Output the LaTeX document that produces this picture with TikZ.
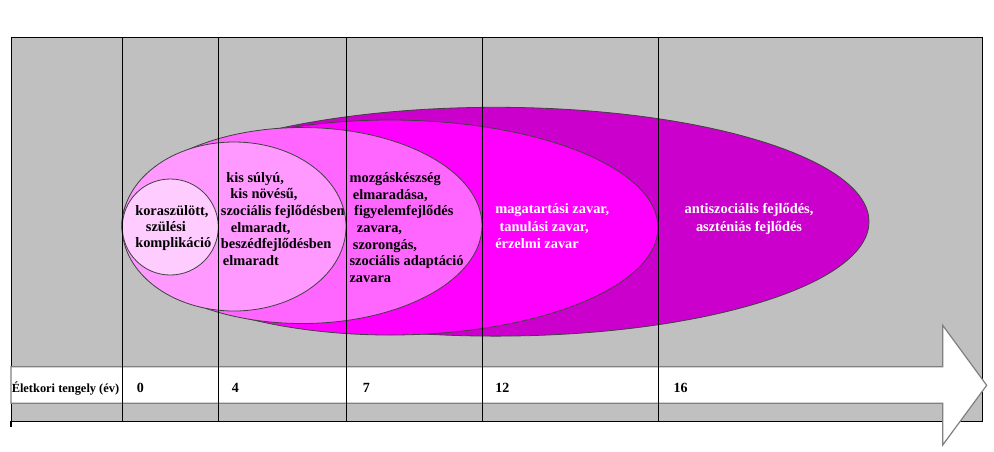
\documentclass[tikz,border=0pt]{standalone}
\usepackage{fontspec}
\setmainfont{Liberation Serif}
\definecolor{panelgray}{HTML}{C0C0C0}
\definecolor{pinkA}{HTML}{FFCCFF}
\definecolor{pinkB}{HTML}{FF99FF}
\definecolor{pinkC}{HTML}{FF66FF}
\definecolor{pinkD}{HTML}{FF00FF}
\definecolor{pinkE}{HTML}{CC00CC}
\definecolor{arrowgray}{HTML}{808080}
\begin{document}
\begin{tikzpicture}[x=0.75pt,y=-0.75pt,
  ell/.style={draw=black!75, line width=0.6pt},
  vline/.style={draw=black, line width=0.65pt},
  lbl/.style={font=\fontsize{10.8}{12.5}\selectfont\bfseries, align=left, inner sep=0pt, anchor=base west},
  num/.style={font=\fontsize{10.5}{12.5}\selectfont\bfseries, inner sep=0pt, anchor=base west}]
\useasboundingbox (0,0) rectangle (994,451);
% panel
\draw[fill=panelgray, draw=black, line width=0.7pt] (11,37) rectangle (982,421);
\draw[black, line width=1.1pt] (11,421) -- (11,427);
% ellipses
\filldraw[ell, fill=pinkE] (495.5,221.7) ellipse [x radius=373.5, y radius=114.4];
\filldraw[ell, fill=pinkD] (390,227.5) ellipse [x radius=268, y radius=107.5];
\filldraw[ell, fill=pinkC] (302,225.5) ellipse [x radius=180, y radius=98];
\filldraw[ell, fill=pinkB] (234,226.5) ellipse [x radius=112, y radius=84.5];
\filldraw[ell, fill=pinkA] (170.3,227) ellipse [x radius=48, y radius=48];
% axis arrow
\draw[draw=arrowgray, fill=white, line width=0.9pt, line join=miter]
  (11,366.8) -- (942.7,366.8) -- (942.7,325.3) -- (986.7,385.3) -- (942.7,445)
  -- (942.7,403.3) -- (11,403.3) -- cycle;
% vertical grid lines
\foreach \xx in {122,218,346,482,658} \draw[vline] (\xx,37) -- (\xx,421);
% labels (anchored at the baseline of the last line)
\node[lbl, font=\fontsize{10.8}{12}\selectfont\bfseries] (ta) at (135,247.5) {koraszülött,\\\hspace*{8pt}szülési\\komplikáció};
\node[lbl] (tb) at (220.7,265.5)
  {\hspace*{4pt}kis súlyú,\\\hspace*{7pt}kis növésű,\\szociális fejlődésben\\\hspace*{7.5pt}elmaradt,\\beszédfejlődésben\\\hspace*{1.5pt}elmaradt};
\node[lbl] (tc) at (349.3,282.5)
  {mozgáskészség\\\hspace*{2.5pt}elmaradása,\\\hspace*{3.5pt}figyelemfejlődés\\\hspace*{5.5pt}zavara,\\\hspace*{2.5pt}szorongás,\\szociális adaptáció\\zavara};
\node[lbl, text=white, font=\fontsize{10.8}{13.1}\selectfont\bfseries] (td) at (495,248.8)
  {magatartási zavar,\\\hspace*{3.2pt}tanulási zavar,\\érzelmi zavar};
\node[lbl, text=white, align=center, anchor=base, font=\fontsize{10.8}{13.1}\selectfont\bfseries] (te) at (749,231.2)
  {antiszociális fejlődés,\\aszténiás fejlődés};
% axis labels
\node[num, font=\fontsize{9.3}{11}\selectfont\bfseries] (axis) at (11.5,392) {Életkori tengely (év)};
\node[num] (n0) at (136.7,392) {0};
\node[num] (n4) at (231.7,392) {4};
\node[num] (n7) at (362.7,392) {7};
\node[num] (n12) at (495,392) {12};
\node[num] (n16) at (673.3,392) {16};
\end{tikzpicture}
\end{document}
